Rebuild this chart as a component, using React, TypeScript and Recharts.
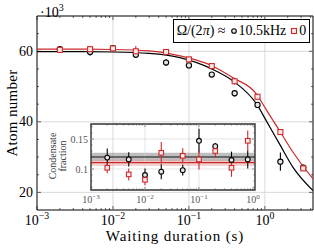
import { ComposedChart, Line, Scatter, XAxis, YAxis, ErrorBar, ReferenceLine, ReferenceArea } from 'recharts';

// main panel: atom number (x 10^3) vs waiting duration (s)
const waitT = [0.002, 0.005, 0.01, 0.02, 0.05, 0.1, 0.2, 0.4, 0.8, 1.6, 3.2];
const atomsDriven = [60.6, 59.8, 60.9, 59.0, 56.8, 56.0, 53.4, 48.1, 44.8, 28.7, 27.0];
const atomsDrivenErr = [0.6, 1.0, 0.5, 0.8, 1.0, 0.7, 0.7, 0.9, 0.6, 2.6, 0.8];
const atomsStatic = [60.4, 60.6, 60.8, 60.0, 59.8, 57.7, 55.8, 51.5, 47.1, 37.1, 26.8];
const atomsStaticErr = [0.3, 0.3, 0.3, 1.5, 0.4, 0.4, 0.4, 1.0, 0.4, 0.5, 0.6];

// fitted decay curves
const fitT = [0.001, 0.003, 0.01, 0.03, 0.076, 0.2, 0.38, 0.78, 1.05, 1.57, 2.36, 4.3];
const fitDriven = [59.9, 59.9, 59.8, 59.4, 58.2, 55.0, 51.6, 45.0, 40.2, 33.6, 27.0, 20.5];
const fitStatic = [60.6, 60.6, 60.5, 60.1, 58.7, 55.9, 52.5, 47.8, 43.3, 37.4, 31.3, 23.8];

// inset: condensate fraction
const insetT = [0.002, 0.005, 0.01, 0.02, 0.05, 0.1, 0.2, 0.4, 0.8];
const fracDriven = [0.119, 0.116, 0.09, 0.0955, 0.098, 0.147, 0.138, 0.115, 0.116];
const fracDrivenErr = [0.015, 0.012, 0.011, 0.0125, 0.009, 0.02, 0.0055, 0.014, 0.015];
const fracStatic = [0.102, 0.091, 0.082, 0.127, 0.122, 0.116, 0.13, 0.102, 0.147];
const fracStaticErr = [0.009, 0.01, 0.009, 0.018, 0.0125, 0.017, 0.011, 0.015, 0.017];
const fracDrivenMean = 0.12;
const fracDrivenBand = [0.113, 0.127];
const fracStaticMean = 0.1105;
const fracStaticBand = [0.105, 0.116];

const decades = [0.001, 0.01, 0.1, 1];
const mantissas = [1, 2, 3, 4, 5, 6, 7, 8, 9];
const mainYTicks = [20, 25, 30, 35, 40, 45, 50, 55, 60, 65];
const mainYLabels = [20, 40, 60];
const insetYTicks = [0.07, 0.08, 0.09, 0.1, 0.11, 0.12, 0.13, 0.14, 0.15, 0.16, 0.17];
const insetYLabels = ['0.1', '0.15'];

const RED = '#cc2a2a';
const FONT = '"Liberation Serif", "DejaVu Serif", serif';

const MAIN_X = [0.001, 4.3];
const MAIN_Y = [15, 70];
const INSET_X = [0.001, 1.09];
const INSET_Y = [0.065, 0.175];

const P = { left: 37, right: 313, top: 16, bottom: 210 };
const IP = { left: 51, right: 215, top: 4, bottom: 70 };

const pts = (xs: number[], ys: number[], es?: number[]) =>
  xs.map((t, i) => ({ t, v: ys[i], e: es ? es[i] : 0 }));

const logTicks = (max: number) =>
  decades.flatMap((d) => mantissas.map((m) => +(d * m).toPrecision(3))).filter((v) => v <= max);

const isDecade = (v: number) => Math.abs(Math.log10(v) - Math.round(Math.log10(v))) < 1e-6;

function Pow10({ x, y, v, size, fill }: { x: number; y: number; v: number; size: number; fill: string }) {
  const e = Math.round(Math.log10(v));
  return (
    <text x={x} y={y} textAnchor="middle" fontSize={size} fill={fill}>
      10
      <tspan dy={-size * 0.4} fontSize={size * 0.7}>
        {e < 0 ? `\u2212${-e}` : e}
      </tspan>
    </text>
  );
}

function MainXTick({ x, payload }: any) {
  const v = payload.value;
  const major = isDecade(v);
  const len = major ? 4 : 2;
  return (
    <g>
      <line x1={x} x2={x} y1={P.bottom} y2={P.bottom - len} stroke="#000" strokeWidth={0.6} />
      <line x1={x} x2={x} y1={P.top} y2={P.top + len} stroke="#000" strokeWidth={0.6} />
      {major && <Pow10 x={x} y={225} v={v} size={14} fill="#000" />}
    </g>
  );
}

function MainYTick({ y, payload }: any) {
  const v = payload.value;
  const major = mainYLabels.includes(v);
  const len = major ? 4 : 2;
  return (
    <g>
      <line x1={P.left} x2={P.left + len} y1={y} y2={y} stroke="#000" strokeWidth={0.6} />
      <line x1={P.right} x2={P.right - len} y1={y} y2={y} stroke="#000" strokeWidth={0.6} />
      {major && (
        <text x={33} y={y + 4.5} textAnchor="end" fontSize={14} fill="#000">
          {v}
        </text>
      )}
    </g>
  );
}

function InsetXTick({ x, payload }: any) {
  const v = payload.value;
  const major = isDecade(v);
  const len = major ? 3 : 1.6;
  return (
    <g>
      <line x1={x} x2={x} y1={IP.bottom} y2={IP.bottom - len} stroke="#444" strokeWidth={0.6} />
      <line x1={x} x2={x} y1={IP.top} y2={IP.top + len} stroke="#444" strokeWidth={0.6} />
      {major && <Pow10 x={x} y={83} v={v} size={10} fill="#555" />}
    </g>
  );
}

function InsetYTick({ y, payload }: any) {
  const v = payload.value;
  const label = insetYLabels.find((s) => Math.abs(parseFloat(s) - v) < 1e-6);
  const len = label ? 3 : 1.6;
  return (
    <g>
      <line x1={IP.left} x2={IP.left + len} y1={y} y2={y} stroke="#444" strokeWidth={0.6} />
      <line x1={IP.right} x2={IP.right - len} y1={y} y2={y} stroke="#444" strokeWidth={0.6} />
      {label && (
        <text x={48} y={y + 3.5} textAnchor="end" fontSize={10} fill="#555">
          {label}
        </text>
      )}
    </g>
  );
}

const circle = (r: number, color: string) => (p: any) =>
  <circle cx={p.cx} cy={p.cy} r={r} fill="#e6e6e6" stroke={color} strokeWidth={1.1} />;
const square = (s: number, color: string) => (p: any) =>
  <rect x={p.cx - s / 2} y={p.cy - s / 2} width={s} height={s} fill="#fbe9e9" stroke={color} strokeWidth={1.1} />;

export default function App() {
  const drivenPts = pts(waitT, atomsDriven, atomsDrivenErr);
  const staticPts = pts(waitT, atomsStatic, atomsStaticErr);
  const drivenFit = pts(fitT, fitDriven);
  const staticFit = pts(fitT, fitStatic);
  const insetDriven = pts(insetT, fracDriven, fracDrivenErr);
  const insetStatic = pts(insetT, fracStatic, fracStaticErr);

  return (
    <div style={{ position: 'absolute', left: 0, top: 0, width: 314, height: 249, fontFamily: FONT, background: '#fff' }}>
      <ComposedChart width={314} height={249} margin={{ top: 16, right: 1, left: 0, bottom: 0 }}>
        <XAxis
          dataKey="t"
          type="number"
          scale="log"
          domain={MAIN_X}
          allowDataOverflow
          ticks={logTicks(MAIN_X[1])}
          interval={0}
          height={39}
          tickLine={false}
          axisLine={false}
          tick={(p: any) => <MainXTick {...p} />}
        />
        <YAxis
          dataKey="v"
          type="number"
          domain={MAIN_Y}
          allowDataOverflow
          ticks={mainYTicks}
          interval={0}
          width={37}
          tickLine={false}
          axisLine={false}
          tick={(p: any) => <MainYTick {...p} />}
        />
        {decades.slice(1).map((d) => (
          <ReferenceLine key={'gx' + d} x={d} stroke="#cfcfcf" strokeWidth={0.8} />
        ))}
        {mainYLabels.map((v) => (
          <ReferenceLine key={'gy' + v} y={v} stroke="#cfcfcf" strokeWidth={0.8} />
        ))}
        <ReferenceArea x1={MAIN_X[0]} x2={MAIN_X[1]} y1={MAIN_Y[0]} y2={MAIN_Y[1]} fill="none" stroke="#000" strokeWidth={1} />
        <Line data={drivenFit} dataKey="v" type="monotone" dot={false} stroke="#000" strokeWidth={1.2} isAnimationActive={false} />
        <Line data={staticFit} dataKey="v" type="monotone" dot={false} stroke={RED} strokeWidth={1.2} isAnimationActive={false} />
        <Scatter data={drivenPts} dataKey="v" shape={circle(2.6, '#000')} isAnimationActive={false}>
          <ErrorBar dataKey="e" direction="y" width={0} stroke="#000" strokeWidth={1.1} />
        </Scatter>
        <Scatter data={staticPts} dataKey="v" shape={square(5, RED)} isAnimationActive={false}>
          <ErrorBar dataKey="e" direction="y" width={0} stroke={RED} strokeWidth={1.1} />
        </Scatter>
      </ComposedChart>

      <div style={{ position: 'absolute', left: 40, top: 0, fontSize: 14, lineHeight: '16px' }}>
        ·10<sup style={{ fontSize: 10 }}>3</sup>
      </div>
      <div
        style={{
          position: 'absolute', left: -48, top: 104, width: 120, textAlign: 'center',
          fontSize: 15, lineHeight: '18px', transform: 'rotate(-90deg)', letterSpacing: 0.3,
        }}
      >
        Atom number
      </div>
      <div
        style={{
          position: 'absolute', left: 75, top: 229, width: 200, textAlign: 'center',
          fontSize: 15, lineHeight: '14px', letterSpacing: 0.9,
        }}
      >
        Waiting duration (s)
      </div>

      <div
        style={{
          position: 'absolute', left: 173, top: 19, width: 137, height: 24, boxSizing: 'border-box',
          border: '1px solid #000', background: '#fff', display: 'flex', alignItems: 'center',
          justifyContent: 'center', fontSize: 14, whiteSpace: 'nowrap',
        }}
      >
        <span>Ω/(2<i>π</i>) ≈</span>
        <svg width={10} height={10} style={{ marginLeft: 3 }}>
          <circle cx={5} cy={5} r={2.3} fill="#e6e6e6" stroke="#000" strokeWidth={1.1} />
        </svg>
        <span>10.5kHz</span>
        <svg width={10} height={10} style={{ marginLeft: 3 }}>
          <rect x={2.5} y={2.5} width={5} height={5} fill="#fbe9e9" stroke={RED} strokeWidth={1.1} />
        </svg>
        <span>0</span>
      </div>

      <div style={{ position: 'absolute', left: 40, top: 120 }}>
        <ComposedChart width={222} height={88} margin={{ top: 4, right: 7, left: 0, bottom: 0 }}>
          <XAxis
            dataKey="t"
            type="number"
            scale="log"
            domain={INSET_X}
            allowDataOverflow
            ticks={logTicks(INSET_X[1])}
            interval={0}
            height={18}
            tickLine={false}
            axisLine={false}
            tick={(p: any) => <InsetXTick {...p} />}
          />
          <YAxis
            dataKey="v"
            type="number"
            domain={INSET_Y}
            allowDataOverflow
            ticks={insetYTicks}
            interval={0}
            width={51}
            tickLine={false}
            axisLine={false}
            tick={(p: any) => <InsetYTick {...p} />}
          />
          {decades.slice(1, 3).map((d) => (
            <ReferenceLine key={'igx' + d} x={d} stroke="#d8d8d8" strokeWidth={0.7} />
          ))}
          {insetYLabels.map((s) => (
            <ReferenceLine key={'igy' + s} y={parseFloat(s)} stroke="#d8d8d8" strokeWidth={0.7} />
          ))}
          <ReferenceArea y1={fracDrivenBand[0]} y2={fracDrivenBand[1]} fill="#8a8a8a" fillOpacity={0.55} stroke="none" />
          <ReferenceArea y1={fracStaticBand[0]} y2={fracStaticBand[1]} fill="#e39a9a" fillOpacity={0.45} stroke="none" />
          <ReferenceLine y={fracDrivenMean} stroke="#111" strokeWidth={1.2} />
          <ReferenceLine y={fracStaticMean} stroke={RED} strokeWidth={1.2} />
          <ReferenceArea x1={INSET_X[0]} x2={INSET_X[1]} y1={INSET_Y[0]} y2={INSET_Y[1]} fill="none" stroke="#333" strokeWidth={1.4} />
          <Scatter data={insetDriven} dataKey="v" shape={circle(2.4, '#000')} isAnimationActive={false}>
            <ErrorBar dataKey="e" direction="y" width={0} stroke="#000" strokeWidth={1.1} />
          </Scatter>
          <Scatter data={insetStatic} dataKey="v" shape={square(4.6, RED)} isAnimationActive={false}>
            <ErrorBar dataKey="e" direction="y" width={0} stroke={RED} strokeWidth={1.1} />
          </Scatter>
        </ComposedChart>
      </div>
      <div
        style={{
          position: 'absolute', left: 18, top: 146, width: 80, textAlign: 'center',
          fontSize: 10, lineHeight: '10px', color: '#333', transform: 'rotate(-90deg)',
        }}
      >
        Condensate
        <br />
        fraction
      </div>
    </div>
  );
}
